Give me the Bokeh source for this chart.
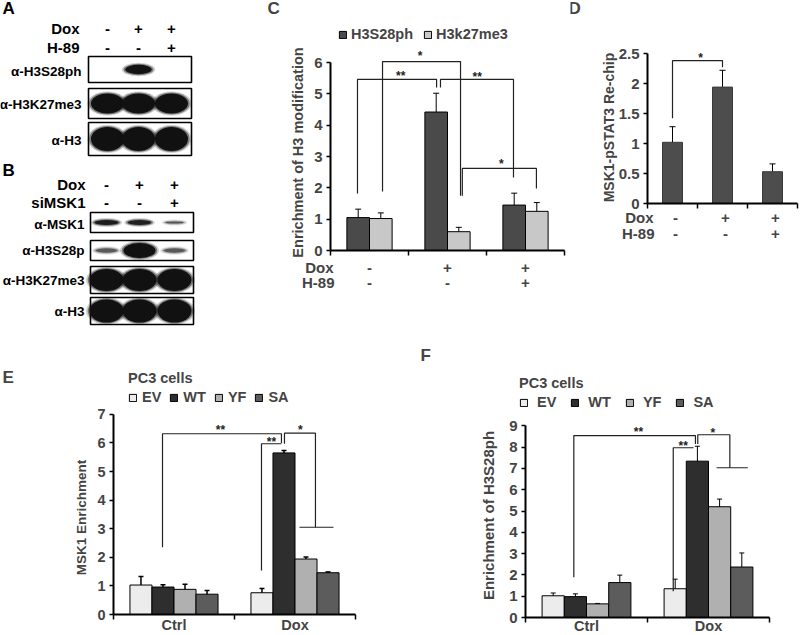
import math
import numpy as np
from bokeh.plotting import figure
from bokeh.models import (ColumnDataSource, Range1d, LinearAxis, FixedTicker, Label, LabelSet,
                          Legend, LegendItem, Whisker, TeeHead, NumeralTickFormatter)
from bokeh.layouts import row, column
from bokeh.core.properties import value
from bokeh.embed import file_html
from bokeh.resources import INLINE

FONT = "Liberation Sans"

# ---------------- data ----------------
# Panel A (western blot)
a_dox = ["-", "+", "+"]
a_h89 = ["-", "-", "+"]
a_rows = ["α-H3S28ph", "α-H3K27me3", "α-H3"]
a_bands = [[0.0, 0.95, 0.0], [1.0, 1.0, 1.0], [1.0, 1.0, 1.0]]
# Panel B (western blot)
b_dox = ["-", "+", "+"]
b_simsk1 = ["-", "-", "+"]
b_rows = ["α-MSK1", "α-H3S28p", "α-H3K27me3", "α-H3"]
b_bands = [[0.85, 0.8, 0.35], [0.3, 1.0, 0.3], [1.0, 1.0, 1.0], [1.0, 1.0, 1.0]]

# Panel C
c_dox = ["-", "+", "+"]
c_h89 = ["-", "-", "+"]
c_h3s28ph = [1.05, 4.42, 1.45]
c_h3s28ph_err = [0.27, 0.60, 0.38]
c_h3k27me3 = [1.02, 0.60, 1.25]
c_h3k27me3_err = [0.18, 0.14, 0.28]

# Panel D
d_dox = ["-", "+", "+"]
d_h89 = ["-", "-", "+"]
d_vals = [1.02, 1.94, 0.53]
d_err = [0.26, 0.28, 0.13]

# Panel E
e_cats = ["Ctrl", "Dox"]
e_series = ["EV", "WT", "YF", "SA"]
e_ev = [1.03, 0.76]
e_ev_err = [0.30, 0.15]
e_wt = [0.96, 5.65]
e_wt_err = [0.08, 0.08]
e_yf = [0.88, 1.94]
e_yf_err = [0.18, 0.07]
e_sa = [0.71, 1.46]
e_sa_err = [0.13, 0.03]

# Panel F
f_cats = ["Ctrl", "Dox"]
f_series = ["EV", "WT", "YF", "SA"]
f_ev = [1.02, 1.35]
f_ev_err = [0.13, 0.45]
f_wt = [0.98, 7.34]
f_wt_err = [0.13, 0.70]
f_yf = [0.64, 5.20]
f_yf_err = [0.02, 0.36]
f_sa = [1.64, 2.37]
f_sa_err = [0.35, 0.66]

SERIES_COLORS = ["#ececec", "#2e2e2e", "#b0b0b0", "#5c5c5c"]


# ---------------- helpers ----------------
class Panel:
    """A figure whose frame fills the whole canvas; (ox, oy) = page pixel of data origin."""

    def __init__(self, box, origin, ppu):
        fx0, fy0, fx1, fy1 = box
        self.ox, self.oy = origin
        self.px, self.py = ppu
        self.fx0, self.fy1 = fx0, fy1
        self.p = figure(width=fx1 - fx0, height=fy1 - fy0,
                        x_range=Range1d((fx0 - self.ox) / self.px, (fx1 - self.ox) / self.px),
                        y_range=Range1d((self.oy - fy1) / self.py, (self.oy - fy0) / self.py),
                        x_axis_type=None, y_axis_type=None, output_backend="svg",
                        toolbar_location=None, min_border=0, outline_line_color=None)

    def X(self, px):
        return (px - self.ox) / self.px

    def Y(self, py):
        return (self.oy - py) / self.py

    def loc(self, px, py):
        return (px - self.fx0, self.fy1 - py)


def yaxis(p, bounds, ticks, size="15px", fmt=None):
    ax = LinearAxis(fixed_location=0, bounds=bounds, ticker=FixedTicker(ticks=ticks),
                    major_tick_out=4, major_tick_in=0, minor_tick_out=0, minor_tick_in=0,
                    axis_line_width=2, major_tick_line_width=1.5, major_label_standoff=4,
                    major_label_text_font=FONT, major_label_text_font_style="bold",
                    major_label_text_font_size=size)
    if fmt is not None:
        ax.formatter = fmt
    p.add_layout(ax, "left")


def xaxis(p, bounds, ticks):
    ax = LinearAxis(fixed_location=0, bounds=bounds, ticker=FixedTicker(ticks=ticks),
                    major_tick_out=5, major_tick_in=0, minor_tick_out=0, minor_tick_in=0,
                    axis_line_width=2, major_tick_line_width=1.5, major_label_standoff=0,
                    major_label_text_font_size="1px",
                    major_label_overrides={t: "" for t in ticks})
    p.add_layout(ax, "below")


def label(p, x, y, text, size="15px", align="center", angle=0.0):
    p.add_layout(Label(x=x, y=y, text=text, text_font=FONT, text_font_style="bold",
                       text_font_size=size, text_align=align, text_baseline="middle",
                       angle=angle))


def label_set(p, xs, y, texts, size="15px"):
    src = ColumnDataSource(dict(x=list(xs), y=[y] * len(xs), t=list(texts)))
    p.add_layout(LabelSet(x="x", y="y", text="t", source=src, text_align="center",
                          text_baseline="middle", text_font=value(FONT),
                          text_font_style="bold", text_font_size=size))


def whiskers(p, xs, vals, errs, lw=1.0, head=6):
    src = ColumnDataSource(dict(x=list(xs), lo=[v - e for v, e in zip(vals, errs)],
                                hi=[v + e for v, e in zip(vals, errs)]))
    p.add_layout(Whisker(source=src, base="x", lower="lo", upper="hi", line_width=lw,
                         line_color="black",
                         upper_head=TeeHead(size=head, line_width=lw, line_color="black"),
                         lower_head=TeeHead(size=head, line_width=lw, line_color="black")))


def brackets(p, paths, lw=1.2):
    p.multi_line(xs=[pp[0] for pp in paths], ys=[pp[1] for pp in paths],
                 line_color="#222222", line_width=lw)


def stars(p, items, ppu, size="12px"):
    # items: (x, visible centre y, text)
    p.text(x=[i[0] for i in items], y=[i[1] - 3.0 / ppu for i in items],
           text=[i[2] for i in items], text_font=value(FONT), text_font_size=size,
           text_font_style="bold", text_align="center", text_baseline="middle",
           text_color="#222222")


def legend(p, items, loc, title=None, standoff=4, spacing=10):
    kw = dict(items=[LegendItem(label=n, renderers=[r]) for n, r in items],
              orientation="horizontal", location=loc, glyph_width=9, glyph_height=9,
              label_standoff=standoff, spacing=spacing, padding=0, margin=0,
              border_line_color=None, background_fill_alpha=0,
              label_text_font=FONT, label_text_font_style="bold",
              label_text_font_size="14.5px", label_height=16, label_width=10)
    if title:
        kw.update(title=title, title_text_font=FONT, title_text_font_style="bold",
                  title_text_font_size="14.5px", title_standoff=3)
    p.add_layout(Legend(**kw))


# ---------------- A & B: blots ----------------
ab = figure(width=240, height=340, x_range=Range1d(0, 240), y_range=Range1d(340, 0),
            x_axis_type=None, y_axis_type=None, output_backend="svg",
            toolbar_location=None, min_border=0, outline_line_color=None)


def draw_blot(p, lanes, box_x, boxes, bands, sizes):
    for (y0, y1), row_i, (bw, bh) in zip(boxes, bands, sizes):
        p.quad(left=[box_x[0]], right=[box_x[1]], top=[y0], bottom=[y1],
               fill_color="white", line_color="black", line_width=1.6)
        yc = (y0 + y1) / 2
        for lx, inten in zip(lanes, row_i):
            if inten < 0.05:
                continue
            w = bw * (0.55 + 0.45 * inten)
            h = bh * inten
            a = 0.35 + 0.65 * inten
            for dw, dh, fa in [(7, 4, 0.2), (3.5, 2, 0.45), (0, 0, 1.0)]:
                p.ellipse(x=[lx], y=[yc], width=[w + dw], height=[h + dh],
                          fill_color="#111111", fill_alpha=a * fa, line_color=None)


def ab_text(xs, ys, texts, align="center", size="13.5px"):
    ab.text(x=xs, y=ys, text=texts, text_font=value(FONT), text_font_style="bold",
            text_font_size=size, text_align=align, text_baseline="middle", text_color="black")


# Panel A
a_lanes = [107, 138, 171]
draw_blot(ab, a_lanes, (88, 191), [(56, 82), (88, 118), (122, 155)], a_bands,
          [(27, 10), (33, 20), (33, 24)])
ab_text([2], [8], ["A"], align="left", size="17px")
ab_text([79, 79], [28, 47], ["Dox", "H-89"], align="right", size="15px")
ab_text(a_lanes, [28] * 3, a_dox, size="15px")
ab_text(a_lanes, [47] * 3, a_h89, size="15px")
ab_text([81] * 3, [71, 104, 140], a_rows, align="right")

# Panel B
b_lanes = [106, 139, 174]
draw_blot(ab, b_lanes, (90, 193), [(212, 232), (240, 260), (266, 293), (297, 324)], b_bands,
          [(26, 6), (32, 15), (34, 22), (34, 23)])
ab_text([2], [170], ["B"], align="left", size="17px")
ab_text([85, 85], [184, 202], ["Dox", "siMSK1"], align="right", size="15px")
ab_text(b_lanes, [184] * 3, b_dox, size="15px")
ab_text(b_lanes, [202] * 3, b_simsk1, size="15px")
ab_text([84] * 4, [224, 250, 280, 311], b_rows, align="right")

# ---------------- C ----------------
C = Panel((240, 0, 570, 340), (330, 250), (78.0, 31.33))
c = C.p
cx = np.arange(3) + 0.5
cbw = 0.29
rc1 = c.vbar(x=cx - cbw / 2, top=c_h3s28ph, width=cbw, fill_color="#4a4a4a",
             line_color="black", line_width=1)
rc2 = c.vbar(x=cx + cbw / 2, top=c_h3k27me3, width=cbw, fill_color="#c8c8c8",
             line_color="black", line_width=1)
whiskers(c, cx - cbw / 2, c_h3s28ph, c_h3s28ph_err)
whiskers(c, cx + cbw / 2, c_h3k27me3, c_h3k27me3_err)
yaxis(c, (0, 6), list(range(7)))
xaxis(c, (0, 3), [0, 1, 2, 3])
brackets(c, [
    ([0.346, 0.346, 1.36, 1.36], [1.82, 5.46, 5.46, 5.2]),
    ([0.667, 0.667, 1.667, 1.667], [1.88, 6.03, 6.03, 1.75]),
    ([1.41, 1.41, 2.346, 2.346], [5.2, 5.46, 5.46, 2.33]),
    ([1.69, 1.69, 2.64, 2.64], [1.75, 2.62, 2.62, 1.98]),
])
stars(c, [(0.9, 5.68, "**"), (1.15, 6.29, "*"), (1.88, 5.62, "**"), (2.19, 2.87, "*")], C.py)
legend(c, [("H3S28ph", rc1), ("H3k27me3", rc2)], C.loc(338, 42), standoff=4, spacing=10)
label(c, C.X(297), C.Y(152), "Enrichment of H3 modification", size="14.5px", angle=math.pi / 2)
label(c, C.X(333), C.Y(267), "Dox", align="right")
label(c, C.X(334), C.Y(282), "H-89", align="right")
label_set(c, cx, C.Y(267), c_dox)
label_set(c, cx, C.Y(282), c_h89)
label(c, C.X(267), C.Y(8), "C", size="17px", align="left")

# ---------------- D ----------------
D = Panel((570, 0, 800, 340), (647, 203), (50.0, 60.0))
d = D.p
dx = np.arange(3) + 0.5
d.vbar(x=dx, top=d_vals, width=0.4, fill_color="#4d4d4d", line_color="#3a3a3a", line_width=1)
whiskers(d, dx, d_vals, d_err)
yaxis(d, (0, 2.5), [0, 0.5, 1, 1.5, 2, 2.5], fmt=NumeralTickFormatter(format="0.[0]"))
xaxis(d, (0, 3), [0, 1, 2, 3])
brackets(d, [([0.5, 0.5, 1.5, 1.5], [1.42, 2.38, 2.38, 2.27])])
stars(d, [(1.06, 2.47, "*")], D.py)
label(d, D.X(608), D.Y(127), "MSK1-pSTAT3 Re-chip", size="14px", angle=math.pi / 2)
label(d, D.X(653), D.Y(217), "Dox", align="right")
label(d, D.X(654), D.Y(233), "H-89", align="right")
label_set(d, dx + 0.06, D.Y(217), d_dox)
label_set(d, dx + 0.06, D.Y(233), d_h89)
label(d, D.X(568), D.Y(8), "D", size="17px", align="left")


# ---------------- E & F ----------------
def grouped(p, vals, errs, bw, lw_err):
    gx = np.arange(2) + 0.5
    rs = []
    for k, (v, e, col) in enumerate(zip(vals, errs, SERIES_COLORS)):
        xs = gx + (k - 1.5) * bw
        rs.append(p.vbar(x=xs, top=v, width=bw, fill_color=col, line_color="black",
                         line_width=1))
        whiskers(p, xs, v, e, lw=lw_err, head=5)
    return rs


E = Panel((0, 340, 400, 635), (113, 614), (121.0, 28.6))
e = E.p
re = grouped(e, [e_ev, e_wt, e_yf, e_sa], [e_ev_err, e_wt_err, e_yf_err, e_sa_err], 0.182, 1.5)
yaxis(e, (0, 7), list(range(8)), size="14.5px")
xaxis(e, (0, 2), [0, 1, 2])
brackets(e, [
    ([0.405, 0.405, 1.388, 1.388], [2.35, 6.32, 6.32, 6.0]),
    ([1.223, 1.223, 1.388], [1.54, 5.97, 5.97]),
    ([1.413, 1.413, 1.669, 1.669], [5.97, 6.34, 6.34, 3.05]),
    ([1.537, 1.818], [3.05, 3.05]),
])
stars(e, [(0.884, 6.54, "**"), (1.306, 6.12, "**"), (1.545, 6.57, "*")], E.py)
legend(e, list(zip(e_series, re)), E.loc(128, 405), title="PC3 cells", standoff=5, spacing=8)
label(e, E.X(81), E.Y(517), "MSK1 Enrichment", size="13.5px", angle=math.pi / 2)
label_set(e, [0.5, 1.5], E.Y(624), e_cats, size="14.5px")
label(e, E.X(2), E.Y(377), "E", size="17px", align="left")

F = Panel((400, 340, 800, 635), (525, 617), (122.0, 21.3))
f = F.p
rf = grouped(f, [f_ev, f_wt, f_yf, f_sa], [f_ev_err, f_wt_err, f_yf_err, f_sa_err], 0.182, 1.0)
yaxis(f, (0, 9), list(range(10)))
xaxis(f, (0, 2), [0, 1, 2])
brackets(f, [
    ([0.396, 0.396, 1.393, 1.393], [1.89, 8.54, 8.54, 8.15]),
    ([1.211, 1.211, 1.377], [1.23, 7.97, 7.97]),
    ([1.412, 1.412, 1.675, 1.675], [8.15, 8.58, 8.58, 7.03]),
    ([1.566, 1.822], [7.03, 7.03]),
])
stars(f, [(0.926, 8.87, "**"), (1.293, 8.2, "**"), (1.535, 8.81, "*")], F.py)
legend(f, list(zip(f_series, rf)), F.loc(519, 410), title="PC3 cells", standoff=9, spacing=14)
label(f, F.X(488), F.Y(515), "Enrichment of H3S28ph", size="15px", angle=math.pi / 2)
label_set(f, [0.5, 1.5], F.Y(625), f_cats, size="14.5px")
label(f, F.X(420), F.Y(355), "F", size="17px", align="left")

layout = column(row(ab, c, d), row(e, f))
open("out.html", "w").write(file_html(layout, INLINE))
